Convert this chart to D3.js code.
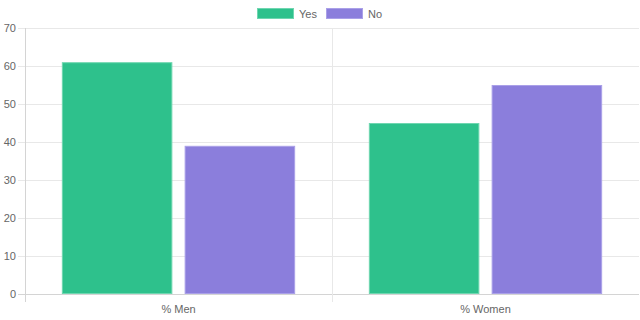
<!DOCTYPE html>
<html>
<head>
<meta charset="utf-8">
<script src="https://cdn.jsdelivr.net/npm/d3@7"></script>
<style>
  body { margin: 0; background: #fff; }
  svg text { font-family: "Liberation Sans", Arial, sans-serif; fill: #666; font-size: 11px; }
</style>
</head>
<body>
<div id="chart"></div>
<script>
// data
var categories = ["% Men", "% Women"];
var seriesNames = ["Yes", "No"];
var yesValues = [61, 45];
var noValues = [39, 55];
var yTicks = [0, 10, 20, 30, 40, 50, 60, 70];

var colors = {Yes: "#2ec18c", No: "#8b7edc"};
var borders = {Yes: "#6fd6b0", No: "#aaa0e8"};

var W = 640, H = 320;
var margin = {top: 28, right: 1, bottom: 26, left: 25};
var width = W - margin.left - margin.right,
    height = H - margin.top - margin.bottom;

var svg = d3.select("#chart").append("svg")
    .attr("width", W)
    .attr("height", H);

var g = svg.append("g")
    .attr("transform", "translate(" + margin.left + "," + margin.top + ")");

var x0 = d3.scaleBand()
    .domain(categories)
    .range([0, width])
    .paddingInner(0)
    .paddingOuter(0);

// chart.js style: categoryPercentage 0.8, barPercentage 0.9
var x1 = d3.scaleBand()
    .domain(seriesNames)
    .range([x0.bandwidth() * 0.1, x0.bandwidth() * 0.9])
    .paddingInner(0.1)
    .paddingOuter(0.05);

var y = d3.scaleLinear()
    .domain([0, 70])
    .range([height, 0]);

// horizontal grid lines
g.append("g")
    .selectAll("line")
    .data(yTicks)
    .enter().append("line")
    .attr("x1", -7)
    .attr("x2", width)
    .attr("y1", function(d) { return Math.round(y(d)) + 0.5; })
    .attr("y2", function(d) { return Math.round(y(d)) + 0.5; })
    .attr("stroke", function(d) { return d === 0 ? "#d4d4d4" : "#e8e8e8"; });

// vertical grid lines (left axis + category divider)
var vLines = [0, width / 2];
g.append("g")
    .selectAll("line")
    .data(vLines)
    .enter().append("line")
    .attr("x1", function(d) { return Math.round(d) + 0.5; })
    .attr("x2", function(d) { return Math.round(d) + 0.5; })
    .attr("y1", 0)
    .attr("y2", height + 8)
    .attr("stroke", function(d, i) { return i === 0 ? "#d4d4d4" : "#e8e8e8"; });

// y tick labels
g.append("g")
    .selectAll("text")
    .data(yTicks)
    .enter().append("text")
    .attr("x", -9)
    .attr("y", function(d) { return y(d); })
    .attr("dy", "0.35em")
    .attr("text-anchor", "end")
    .text(function(d) { return d; });

// x labels
g.append("g")
    .selectAll("text")
    .data(categories)
    .enter().append("text")
    .attr("x", function(d) { return x0(d) + x0.bandwidth() / 2; })
    .attr("y", height + 19)
    .attr("text-anchor", "middle")
    .text(function(d) { return d; });

// bars
var rows = categories.map(function(c, i) {
    return {cat: c, Yes: yesValues[i], No: noValues[i]};
});

var groups = g.selectAll(".cat")
    .data(rows)
    .enter().append("g")
    .attr("class", "cat")
    .attr("transform", function(d) { return "translate(" + x0(d.cat) + ",0)"; });

groups.selectAll("rect")
    .data(function(d) { return seriesNames.map(function(s) { return {key: s, value: d[s]}; }); })
    .enter().append("rect")
    .attr("x", function(d) { return x1(d.key) + 0.5; })
    .attr("y", function(d) { return y(d.value) + 0.5; })
    .attr("width", function(d) { return x1.bandwidth() - 1; })
    .attr("height", function(d) { return height - y(d.value) - 1; })
    .attr("fill", function(d) { return colors[d.key]; })
    .attr("stroke", function(d) { return borders[d.key]; })
    .attr("stroke-width", 1);

// legend
var legend = svg.append("g");
var legendX = [257, 326];
seriesNames.forEach(function(s, i) {
    legend.append("rect")
        .attr("x", legendX[i] + 0.5)
        .attr("y", 8.5)
        .attr("width", 36)
        .attr("height", 10)
        .attr("fill", colors[s])
        .attr("stroke", borders[s]);
    legend.append("text")
        .attr("x", legendX[i] + 42)
        .attr("y", 14)
        .attr("dy", "0.35em")
        .text(s);
});
</script>
</body>
</html>
